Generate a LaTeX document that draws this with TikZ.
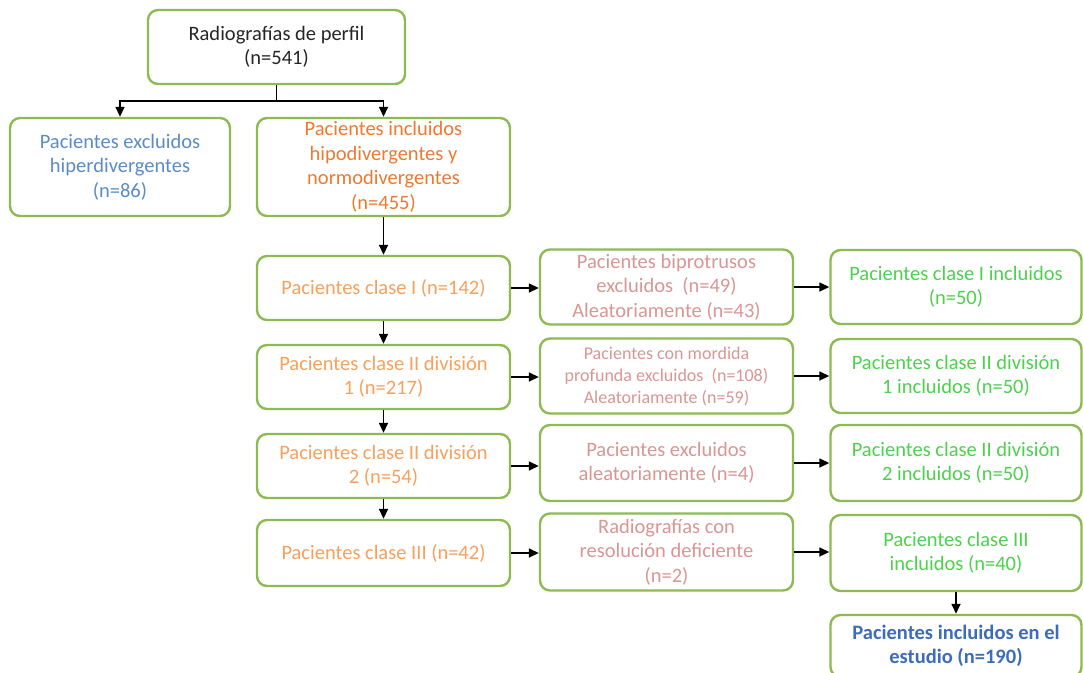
\documentclass[tikz,border=0pt]{standalone}
\usepackage{fontspec}
\setmainfont{Carlito}
\usetikzlibrary{arrows.meta}
\definecolor{boxgreen}{HTML}{8DBA52}
\definecolor{cblue}{HTML}{5B8CC8}
\definecolor{corange}{HTML}{EE7A30}
\definecolor{clorange}{HTML}{F9A05C}
\definecolor{cpink}{HTML}{D99694}
\definecolor{cgreen}{HTML}{4CD24C}
\definecolor{cdblue}{HTML}{3E6DB8}
\definecolor{ctext}{HTML}{262626}
\begin{document}
\begin{tikzpicture}[x=1pt,y=-1pt,
  box/.style={draw=boxgreen,line width=2.4pt,rounded corners=10pt,fill=white,
    align=center,inner sep=0pt,font=\fontsize{20.5}{24.5}\selectfont},
  smalltxt/.style={font=\fontsize{18}{22}\selectfont},
  arr/.style={draw=black,line width=1.5pt,-{Triangle[length=10pt,width=9pt]}},
  ln/.style={draw=black,line width=1.5pt}]
\useasboundingbox (0,0) rectangle (1083,672);
% top
\node[box,minimum width=257pt,minimum height=74pt,text=ctext] (top) at (276.5,47) {Radiografías de perfil\\(n=541)};
\node[box,minimum width=220pt,minimum height=98pt,text=cblue] (excl) at (120,167) {Pacientes excluidos\\hiperdivergentes\\(n=86)};
\node[box,minimum width=253pt,minimum height=98pt,text=corange] (incl) at (383.5,167) {Pacientes incluidos\\hipodivergentes y\\normodivergentes\\(n=455)};
% column 1
\node[box,minimum width=253pt,minimum height=64pt,text=clorange] (c1) at (383.5,288) {Pacientes clase I (n=142)};
\node[box,minimum width=253pt,minimum height=64pt,text=clorange] (c2) at (383.5,377) {Pacientes clase II división\\1 (n=217)};
\node[box,minimum width=253pt,minimum height=64pt,text=clorange] (c3) at (383.5,466) {Pacientes clase II división\\2 (n=54)};
\node[box,minimum width=253pt,minimum height=66pt,text=clorange] (c4) at (383.5,553) {Pacientes clase III (n=42)};
% column 2
\node[box,minimum width=253pt,minimum height=75pt,text=cpink] (m1) at (666.5,287) {Pacientes biprotrusos\\excluidos~~(n=49)\\Aleatoriamente (n=43)};
\node[box,smalltxt,minimum width=253pt,minimum height=75pt,text=cpink] (m2) at (666.5,376) {Pacientes con mordida\\profunda excluidos~~(n=108)\\Aleatoriamente (n=59)};
\node[box,minimum width=253pt,minimum height=76pt,text=cpink] (m3) at (666.5,463) {Pacientes excluidos\\aleatoriamente (n=4)};
\node[box,minimum width=253pt,minimum height=77pt,text=cpink] (m4) at (666.5,552) {Radiografías con\\resolución deficiente\\(n=2)};
% column 3
\node[box,minimum width=251pt,minimum height=74pt,text=cgreen] (r1) at (956,287) {Pacientes clase I incluidos\\(n=50)};
\node[box,minimum width=251pt,minimum height=74pt,text=cgreen] (r2) at (956,376) {Pacientes clase II división\\1 incluidos (n=50)};
\node[box,minimum width=251pt,minimum height=76pt,text=cgreen] (r3) at (956,463) {Pacientes clase II división\\2 incluidos (n=50)};
\node[box,minimum width=251pt,minimum height=76pt,text=cgreen] (r4) at (956,553) {Pacientes clase III\\incluidos (n=40)};
\node[box,minimum width=251pt,minimum height=62pt,text=cdblue,font=\fontsize{20.5}{24.5}\selectfont\bfseries] (fin) at (956,646) {Pacientes incluidos en el\\estudio (n=190)};
% connectors
\draw[ln] (top.south) -- ++(0,16) coordinate (split);
\draw[arr] (split) -| (excl.north);
\draw[arr] (split) -| (incl.north);
\draw[arr] (incl.south) -- (c1.north);
\draw[arr] (c1.south) -- (c2.north);
\draw[arr] (c2.south) -- (c3.north);
\draw[arr] (c3.south) -- (c4.north);
\foreach \a/\b/\c in {c1/m1/r1,c2/m2/r2,c3/m3/r3,c4/m4/r4}{
  \draw[arr] (\a.east) -- (\a.east -| \b.west);
  \draw[arr] (\b.east) -- (\b.east -| \c.west);
}
\draw[arr] (r4.south) -- (fin.north);
\end{tikzpicture}
\end{document}
